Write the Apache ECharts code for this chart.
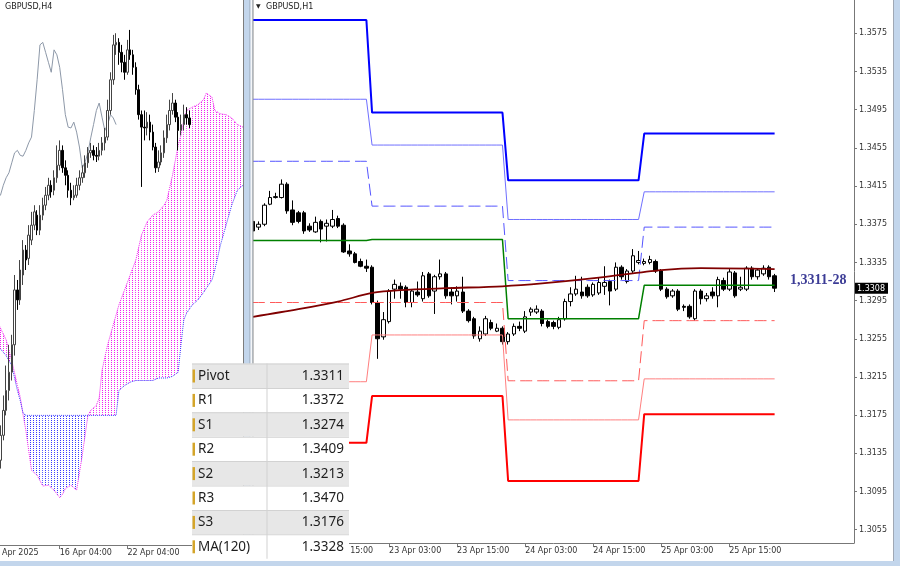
<!DOCTYPE html>
<html><head><meta charset="utf-8">
<script src="https://cdn.jsdelivr.net/npm/echarts@6/dist/echarts.min.js"></script>
<style>html,body{margin:0;padding:0;background:#fff}#c{width:900px;height:566px}</style>
</head><body><div id="c"></div>
<script>
// ================= H1 panel (right) =================
const h1Days = ['22 Apr','23 Apr','24 Apr','25 Apr','26 Apr'];
const h1FirstHour = 3;
const h1SlotCount = 107;
const h1LabelIdx = [0,12,24,36,48,60,72,84];
// [open, close, low, high]
const h1Candles = [
[1.3378,1.3368,1.3364,1.3382],[1.3372,1.3375,1.3369,1.3378],[1.3375,1.3395,1.3373,1.3397],[1.3396,1.3403,1.3395,1.3410],
[1.3403,1.3404,1.3402,1.3408],[1.3403,1.3417,1.3402,1.3422],[1.3417,1.3389,1.3386,1.3419],[1.3390,1.3377,1.3374,1.3400],
[1.3387,1.3378,1.3376,1.3389],[1.3387,1.3368,1.3365,1.3389],[1.3373,1.3369,1.3367,1.3376],[1.3367,1.3377,1.3366,1.3383],
[1.3378,1.3370,1.3356,1.3380],[1.3373,1.3376,1.3357,1.3380],[1.3373,1.3380,1.3371,1.3390],[1.3381,1.3373,1.3371,1.3384],
[1.3374,1.3346,1.3345,1.3376],[1.3347,1.3344,1.3341,1.3354],[1.3344,1.3335,1.3334,1.3346],[1.3336,1.3331,1.3330,1.3339],
[1.3331,1.3329,1.3325,1.3338],[1.3330,1.3293,1.3291,1.3332],[1.3293,1.3255,1.3234,1.3295],[1.3257,1.3275,1.3254,1.3283],
[1.3273,1.3305,1.3271,1.3307],[1.3307,1.3312,1.3297,1.3317],[1.3310,1.3307,1.3297,1.3314],[1.3309,1.3293,1.3288,1.3311],
[1.3293,1.3305,1.3288,1.3307],[1.3304,1.3301,1.3299,1.3315],[1.3297,1.3321,1.3294,1.3325],[1.3323,1.3300,1.3298,1.3325],
[1.3305,1.3320,1.3281,1.3322],[1.3320,1.3323,1.3317,1.3338],[1.3323,1.3300,1.3297,1.3325],[1.3304,1.3300,1.3291,1.3309],
[1.3300,1.3305,1.3294,1.3310],[1.3304,1.3284,1.3282,1.3320],[1.3284,1.3274,1.3272,1.3286],[1.3276,1.3258,1.3255,1.3278],
[1.3255,1.3263,1.3252,1.3268],[1.3260,1.3276,1.3258,1.3279],[1.3272,1.3266,1.3264,1.3275],[1.3263,1.3266,1.3262,1.3271],
[1.3266,1.3252,1.3249,1.3268],[1.3252,1.3260,1.3249,1.3262],[1.3260,1.3268,1.3258,1.3271],[1.3268,1.3266,1.3263,1.3273],
[1.3263,1.3278,1.3261,1.3284],[1.3283,1.3286,1.3279,1.3288],[1.3283,1.3286,1.3281,1.3290],[1.3284,1.3271,1.3268,1.3286],
[1.3273,1.3268,1.3266,1.3275],[1.3272,1.3268,1.3265,1.3274],[1.3267,1.3275,1.3265,1.3278],[1.3276,1.3294,1.3274,1.3297],
[1.3294,1.3302,1.3289,1.3309],[1.3302,1.3307,1.3300,1.3321],[1.3304,1.3300,1.3297,1.3320],[1.3309,1.3300,1.3298,1.3312],
[1.3301,1.3312,1.3299,1.3314],[1.3303,1.3314,1.3301,1.3319],[1.3310,1.3314,1.3301,1.3331],[1.3315,1.3305,1.3290,1.3317],
[1.3307,1.3330,1.3305,1.3335],[1.3330,1.3320,1.3317,1.3332],[1.3315,1.3326,1.3313,1.3328],[1.3326,1.3342,1.3324,1.3349],
[1.3335,1.3337,1.3333,1.3347],[1.3334,1.3336,1.3332,1.3339],[1.3335,1.3338,1.3333,1.3342],[1.3336,1.3326,1.3324,1.3338],
[1.3326,1.3307,1.3305,1.3328],[1.3307,1.3299,1.3297,1.3309],[1.3300,1.3305,1.3298,1.3307],[1.3305,1.3286,1.3284,1.3307],
[1.3289,1.3288,1.3284,1.3291],[1.3289,1.3278,1.3276,1.3291],[1.3276,1.3305,1.3274,1.3307],[1.3305,1.3297,1.3291,1.3307],
[1.3297,1.3300,1.3294,1.3303],[1.3304,1.3300,1.3297,1.3309],[1.3300,1.3317,1.3288,1.3320],[1.3316,1.3307,1.3305,1.3319],
[1.3307,1.3325,1.3305,1.3328],[1.3324,1.3300,1.3298,1.3326],[1.3307,1.3309,1.3305,1.3320],[1.3307,1.3329,1.3305,1.3331],
[1.3329,1.3320,1.3317,1.3331],[1.3320,1.3327,1.3317,1.3329],[1.3323,1.3329,1.3321,1.3332],[1.3330,1.3320,1.3317,1.3332],
[1.3321,1.3308,1.3304,1.3323]
];
// daily pivot levels (22, 23, 24, 25 Apr) and bar index where each day starts
const pivotDayStart = [0,21,45,69];
const R3 = [1.3589,1.3492,1.3421,1.3470];
const R2 = [1.3506,1.3458,1.3380,1.3409];
const R1 = [1.3441,1.3394,1.3316,1.3372];
const PP = [1.3358,1.3359,1.3276,1.3311];
const S1 = [1.3293,1.3293,1.3211,1.3274];
const S2 = [1.3210,1.3259,1.3170,1.3213];
const S3 = [1.3146,1.3195,1.3106,1.3176];
// MA(120) read at these bars
const maIdx = [0,8,15,21,26,34,44,51,61,72,79,92];
const maVal = [1.3278,1.3286,1.3294,1.3303,1.3306,1.3308,1.3310,1.3313,1.3319,1.3327,1.3329,1.3328];
const yTicks = [1.3055,1.3095,1.3135,1.3175,1.3215,1.3255,1.3295,1.3335,1.3375,1.3415,1.3455,1.3495,1.3535,1.3575];

// ================= H4 panel (left) =================
const h4Days = ['10 Apr','11 Apr','14 Apr','15 Apr','16 Apr','17 Apr','18 Apr','21 Apr','22 Apr','23 Apr','24 Apr','25 Apr','28 Apr','29 Apr','30 Apr','1 May'];
const h4Hours = ['00:00','04:00','08:00','12:00','16:00','20:00'];
const h4SlotCount = 91;
const h4FirstBar = 4;
const h4TickIdx = [0,25,49];
const h4TickText = ['10 Apr 2025','16 Apr 04:00','22 Apr 04:00'];
const h4Candles = [
[1.2905,1.2935,1.2895,1.2947],[1.2935,1.2965,1.2929,1.2983],[1.2965,1.2989,1.2959,1.3019],[1.2989,1.3011,1.2977,1.3044],
[1.3011,1.3044,1.3001,1.3056],[1.3044,1.3110,1.3031,1.3128],[1.3110,1.3098,1.3086,1.3122],[1.3098,1.3134,1.3092,1.3146],
[1.3128,1.3158,1.3116,1.3170],[1.3158,1.3146,1.3134,1.3164],[1.3148,1.3176,1.3140,1.3188],[1.3170,1.3188,1.3164,1.3204],
[1.3188,1.3204,1.3182,1.3212],[1.3200,1.3182,1.3176,1.3206],[1.3182,1.3200,1.3176,1.3212],[1.3200,1.3212,1.3194,1.3221],
[1.3212,1.3224,1.3206,1.3234],[1.3224,1.3236,1.3218,1.3245],[1.3236,1.3228,1.3221,1.3242],[1.3230,1.3245,1.3224,1.3254],
[1.3245,1.3260,1.3239,1.3284],[1.3260,1.3278,1.3254,1.3290],[1.3278,1.3257,1.3251,1.3284],[1.3257,1.3248,1.3236,1.3266],
[1.3248,1.3230,1.3221,1.3254],[1.3230,1.3221,1.3212,1.3239],[1.3221,1.3224,1.3218,1.3236],[1.3224,1.3236,1.3221,1.3245],
[1.3236,1.3245,1.3230,1.3254],[1.3245,1.3251,1.3239,1.3260],[1.3251,1.3263,1.3245,1.3272],[1.3263,1.3275,1.3257,1.3282],
[1.3275,1.3278,1.3269,1.3287],[1.3278,1.3272,1.3266,1.3284],[1.3272,1.3271,1.3264,1.3282],[1.3271,1.3278,1.3266,1.3287],
[1.3278,1.3287,1.3272,1.3294],[1.3287,1.3294,1.3278,1.3305],[1.3294,1.3326,1.3290,1.3339],[1.3326,1.3363,1.3321,1.3372],
[1.3363,1.3405,1.3357,1.3417],[1.3405,1.3408,1.3393,1.3419],[1.3408,1.3396,1.3381,1.3413],[1.3396,1.3384,1.3372,1.3405],
[1.3384,1.3372,1.3363,1.3393],[1.3372,1.3399,1.3369,1.3411],[1.3399,1.3393,1.3387,1.3423],[1.3393,1.3378,1.3369,1.3399],
[1.3378,1.3351,1.3345,1.3384],[1.3351,1.3321,1.3315,1.3357],[1.3321,1.3306,1.3234,1.3326],[1.3306,1.3305,1.3290,1.3326],
[1.3305,1.3312,1.3296,1.3324],[1.3312,1.3300,1.3290,1.3321],[1.3300,1.3282,1.3278,1.3309],[1.3282,1.3257,1.3251,1.3287],
[1.3257,1.3264,1.3252,1.3278],[1.3264,1.3275,1.3260,1.3284],[1.3275,1.3293,1.3269,1.3302],[1.3293,1.3309,1.3287,1.3321],
[1.3309,1.3326,1.3302,1.3339],[1.3326,1.3335,1.3321,1.3347],[1.3335,1.3318,1.3312,1.3339],[1.3318,1.3302,1.3278,1.3324],
[1.3302,1.3309,1.3296,1.3321],[1.3309,1.3321,1.3302,1.3333],[1.3321,1.3317,1.3309,1.3330],[1.3317,1.3309,1.3305,1.3326]
];
// Ichimoku cloud (Senkou Span A / B) read at these bars
const cloudIdx = [3,6,8,10,11,12,13,15,17,19,21,23,25,26,27,29,31,33,35,36,38,39,40,42,45,46,48,50,52,54,56,58,60,62,63,65,67,68,69,70,72,74,76,77,79,80,82,84,86,88,90];
const spanA = [1.3071,1.3050,1.3025,1.2995,1.2981,1.2960,1.2941,1.2893,1.2887,1.2874,1.2875,1.2869,1.2860,1.2864,1.2871,1.2875,1.2869,1.2911,1.2959,1.2965,1.2971,1.2980,1.3013,1.3044,1.3080,1.3092,1.3110,1.3128,1.3146,1.3176,1.3192,1.3200,1.3204,1.3212,1.3218,1.3248,1.3284,1.3296,1.3314,1.3326,1.3330,1.3333,1.3339,1.3347,1.3342,1.3326,1.3322,1.3321,1.3317,1.3309,1.3306];
const spanB = [1.3043,1.3031,1.3019,1.2989,1.2977,1.2962,1.2959,1.2959,1.2959,1.2959,1.2959,1.2959,1.2959,1.2959,1.2959,1.2959,1.2959,1.2959,1.2959,1.2959,1.2959,1.2959,1.2959,1.2959,1.2959,1.2989,1.2995,1.2999,1.3001,1.3001,1.3001,1.3001,1.3004,1.3004,1.3004,1.3006,1.3011,1.3044,1.3074,1.3082,1.3092,1.3098,1.3107,1.3112,1.3122,1.3134,1.3164,1.3188,1.3212,1.3230,1.3236];
const chikouShift = 26;

// ================= build =================
const h1Cats = [];
for (let d = 0; d < h1Days.length; d++) {
  for (let h = (d === 0 ? h1FirstHour : 0); h < 24; h++) {
    if (h1Cats.length < h1SlotCount) h1Cats.push(h1Days[d] + ' ' + String(h).padStart(2, '0') + ':00');
  }
}
const h4Cats = [];
h4Days.forEach(d => h4Hours.forEach(h => { if (h4Cats.length < h4SlotCount) h4Cats.push(d + ' ' + h); }));

function dayOf(i){ let d = 0; for (let k = 0; k < pivotDayStart.length; k++) if (i >= pivotDayStart[k]) d = k; return d; }
function levelSeries(arr){ return h1Candles.map((c, i) => arr[dayOf(i)]); }

const lastClose = h1Candles[h1Candles.length - 1][1];
const h4Data = h4Candles.map((c, n) => [h4FirstBar + n, c[0], c[1], c[2], c[3]]);
const chikou = [];
for (let j = 0; j < h4SlotCount; j++) {
  const n = j + chikouShift - h4FirstBar;
  if (n >= 0 && n < h4Candles.length) chikou.push([j, h4Candles[n][1]]);
}

function dotPattern(color){
  const c = document.createElement('canvas'); c.width = 3; c.height = 2;
  const g = c.getContext('2d'); g.fillStyle = color; g.fillRect(0, 0, 1, 1);
  return { image: c, repeat: 'repeat' };
}
const pinkPat = dotPattern('#f020f0');
const bluePat = dotPattern('#3a3aff');

function cloudRender(params, api){
  const k = params.dataIndex;
  if (k >= cloudIdx.length - 1) return { type: 'group', children: [] };
  const a0 = api.coord([cloudIdx[k], spanA[k]]), b0 = api.coord([cloudIdx[k], spanB[k]]);
  const a1 = api.coord([cloudIdx[k+1], spanA[k+1]]), b1 = api.coord([cloudIdx[k+1], spanB[k+1]]);
  const d0 = spanA[k] - spanB[k], d1 = spanA[k+1] - spanB[k+1];
  const poly = (pts, up) => ({ type: 'polygon', shape: { points: pts }, style: { fill: up ? pinkPat : bluePat, stroke: null } });
  const ch = [];
  if (d0 * d1 >= 0) ch.push(poly([a0, a1, b1, b0], (d0 + d1) >= 0));
  else {
    const t = d0 / (d0 - d1);
    const cp = [a0[0] + (a1[0] - a0[0]) * t, a0[1] + (a1[1] - a0[1]) * t];
    ch.push(poly([a0, cp, b0], d0 > 0));
    ch.push(poly([cp, a1, b1], d1 > 0));
  }
  return { type: 'group', children: ch };
}

const AX = { fontFamily: 'DejaVu Sans', fontSize: 8, color: '#333' };
const line = (name, arr, color, width, type) => ({
  name, type: 'line', xAxisIndex: 1, yAxisIndex: 1, data: levelSeries(arr), symbol: 'none', z: 4,
  lineStyle: { color, width, type: type || 'solid' }, animation: false
});

// ================= graphics =================
const G = [];
const rect = (x, y, w, h, fill, z) => G.push({ type: 'rect', shape: { x, y, width: w, height: h }, style: { fill }, z: z || 100, silent: true });
const txt = (x, y, t, style, z) => G.push({ type: 'text', x, y, style: Object.assign({ text: t, textVerticalAlign: 'middle' }, style), z: z || 102, silent: true });

// panel separator
rect(243, 0, 10, 545, '#c3d6ec');
rect(243, 0, 1, 545, '#7d7d7d');
rect(249.5, 0, 1, 545, '#9aa6b4');
rect(250.5, 0, 2, 545, '#f4f6f9');
rect(252.5, 0, 1, 545, '#8a8a8a');
// frame strips
rect(893, 0, 7, 566, '#c3d6ec');
rect(893, 0, 1, 561, '#a0a8b4');
rect(0, 561, 900, 5, '#c3d6ec');
// titles
txt(5, 7, 'GBPUSD,H4', { fontFamily: 'DejaVu Sans', fontSize: 8, fill: '#222' });
txt(256, 6, '▼', { fontFamily: 'DejaVu Sans', fontSize: 6, fill: '#222' });
txt(266, 7, 'GBPUSD,H1', { fontFamily: 'DejaVu Sans', fontSize: 8, fill: '#222' });
// annotation
txt(790, 280, '1,3311-28', { fontFamily: 'Liberation Serif', fontWeight: 'bold', fontSize: 14, fill: '#3c3c96' });
// table
const tableRows = [['Pivot', PP[3]], ['R1', R1[3]], ['S1', S1[3]], ['R2', R2[3]], ['S2', S2[3]], ['R3', R3[3]], ['S3', S3[3]], ['MA(120)', maVal[maVal.length - 1]]];
const tX = 192, tY = 363.5, tW = 157, rH = 24.4;
tableRows.forEach((r, k) => {
  const y = tY + k * rH;
  rect(tX, y, tW, rH, k % 2 === 0 ? '#e7e7e7' : '#ffffff', 110);
  rect(tX, y, tW, 1, '#d2d2d2', 111);
  rect(tX + 0.5, y + 6, 2.5, 13, '#d4a52a', 112);
  txt(tX + 6, y + rH / 2 + 0.5, r[0], { fontFamily: 'Noto Sans', fontSize: 13.5, fill: '#1e1e1e' }, 113);
  txt(tX + 152, y + rH / 2 + 0.5, r[1].toFixed(4), { fontFamily: 'Noto Sans', fontSize: 13.5, fill: '#1e1e1e', align: 'right' }, 113);
});
rect(tX + 74.5, tY, 1, rH * 8, '#d2d2d2', 111);

// ================= option =================
const option = {
  animation: false,
  backgroundColor: '#ffffff',
  grid: [
    { left: -10.8, top: 0, width: 253.8, height: 545, outerBoundsMode: 'none', containLabel: false },
    { left: 253, top: 0, width: 601, height: 543, outerBoundsMode: 'none', containLabel: false }
  ],
  xAxis: [
    { gridIndex: 0, type: 'category', data: h4Cats, boundaryGap: false,
      axisLine: { lineStyle: { color: '#777' } },
      axisTick: { show: true, length: 4, interval: (i) => h4TickIdx.includes(i), lineStyle: { color: '#777' } },
      axisLabel: Object.assign({ interval: (i) => h4TickIdx.includes(i), align: 'left', margin: 4,
        formatter: (v, i) => { const k = h4TickIdx.indexOf(i); return k >= 0 ? h4TickText[k] : ''; } }, AX),
      splitLine: { show: false } },
    { gridIndex: 1, type: 'category', data: h1Cats, boundaryGap: false,
      axisLine: { lineStyle: { color: '#777' } },
      axisTick: { show: true, length: 4, interval: (i) => h1LabelIdx.includes(i), lineStyle: { color: '#777' } },
      axisLabel: Object.assign({ interval: (i) => h1LabelIdx.includes(i), align: 'left', margin: 4 }, AX),
      splitLine: { show: false } }
  ],
  yAxis: [
    { gridIndex: 0, type: 'value', min: 1.2803, max: 1.3459, show: false, splitLine: { show: false } },
    { gridIndex: 1, type: 'value', position: 'right', min: 1.3041, max: 1.3610,
      splitLine: { show: false },
      axisLine: { show: true, lineStyle: { color: '#777' } },
      axisTick: { show: true, length: 3, customValues: yTicks, lineStyle: { color: '#777' } },
      axisLabel: Object.assign({ customValues: yTicks, margin: 5, formatter: (v) => v.toFixed(4) }, AX) }
  ],
  series: [
    { type: 'custom', xAxisIndex: 0, yAxisIndex: 0, renderItem: cloudRender, clip: true, z: 1,
      data: cloudIdx.map((j, k) => [j, spanA[k], spanB[k]]), encode: { x: 0, y: [1, 2] } },
    { type: 'line', xAxisIndex: 0, yAxisIndex: 0, data: cloudIdx.map((j, k) => [j, spanA[k]]), symbol: 'none', z: 2,
      lineStyle: { color: '#f020f0', width: 1, type: 'dotted' } },
    { type: 'line', xAxisIndex: 0, yAxisIndex: 0, data: cloudIdx.map((j, k) => [j, spanB[k]]), symbol: 'none', z: 2,
      lineStyle: { color: '#3a3aff', width: 1, type: 'dotted' } },
    { type: 'line', xAxisIndex: 0, yAxisIndex: 0, data: chikou, symbol: 'none', z: 3,
      lineStyle: { color: '#8d98a8', width: 1 } },
    { type: 'candlestick', xAxisIndex: 0, yAxisIndex: 0, data: h4Data, encode: { x: 0, y: [1, 2, 3, 4] }, barWidth: 2, z: 4,
      itemStyle: { color: '#ffffff', color0: '#000000', borderColor: '#444444', borderColor0: '#000000', borderWidth: 1 } },

    { type: 'candlestick', xAxisIndex: 1, yAxisIndex: 1, data: h1Candles, barWidth: 4, z: 3,
      itemStyle: { color: '#ffffff', color0: '#000000', borderColor: '#000000', borderColor0: '#000000', borderWidth: 1 } },
    line('R3', R3, '#0000ff', 2),
    line('R2', R2, '#6f6fff', 1),
    line('R1', R1, '#5555ff', 1, [12, 5]),
    line('Pivot', PP, '#008000', 1.5),
    line('S1', S1, '#ff5a5a', 1, [12, 5]),
    line('S2', S2, '#ff7f7f', 1),
    line('S3', S3, '#ff0000', 2),
    { type: 'line', xAxisIndex: 1, yAxisIndex: 1, data: maIdx.map((j, k) => [j, maVal[k]]), symbol: 'none', smooth: 0.3, z: 5,
      lineStyle: { color: '#800000', width: 1.8 } }
  ],
  graphic: { elements: G }
};
const chart = echarts.init(document.getElementById('c'), null, { renderer: 'canvas' });
chart.setOption(option);
// last-price tag on the H1 price axis, placed through the axis scale
const py = chart.convertToPixel({ yAxisIndex: 1 }, lastClose);
rect(855, py - 5.5, 33, 11, '#000000', 120);
txt(857, py + 0.5, lastClose.toFixed(4), { fontFamily: 'DejaVu Sans', fontSize: 8, fill: '#ffffff' }, 121);
chart.setOption({ graphic: { elements: G } });
</script>
</body></html>
